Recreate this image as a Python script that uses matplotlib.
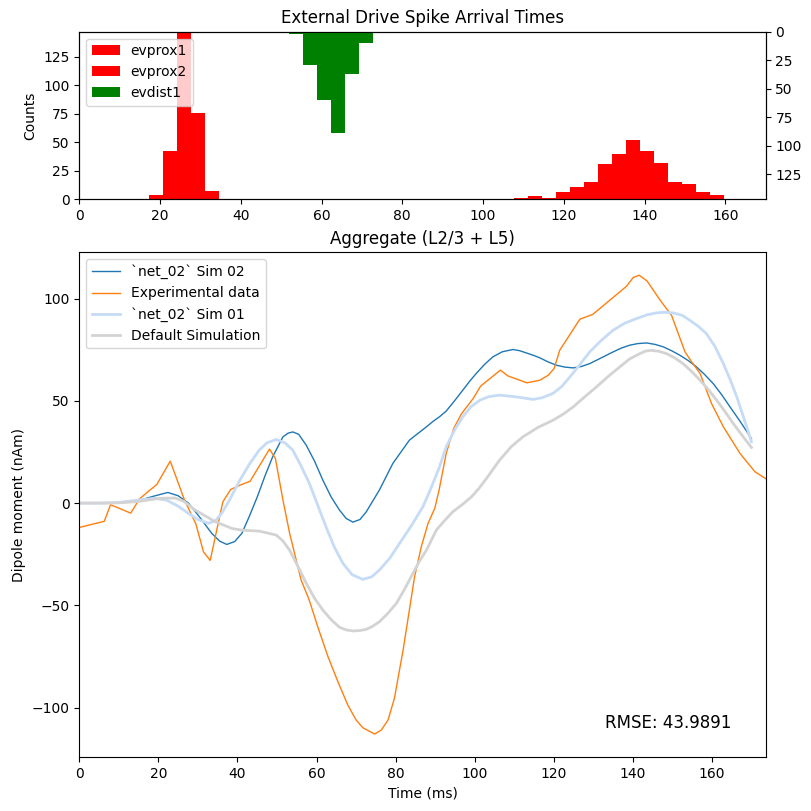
import numpy as np
import matplotlib
matplotlib.use("Agg")
import matplotlib.pyplot as plt

# ---------------- Histogram data ----------------
tstop = 170.0
n_edges = 50
# counts per bin index (bins of width tstop/49)
evprox1_bins = [5, 6, 7, 8, 9]
evprox1_counts = [4, 42, 147, 76, 7]
evprox2_bins = [31, 32, 33, 34, 35, 36, 37, 38, 39, 40, 41, 42, 43, 44, 45]
evprox2_counts = [1, 3, 1, 6, 11, 15, 31, 40, 52, 42, 32, 15, 13, 6, 4]
evdist1_bins = [15, 16, 17, 18, 19, 20]
evdist1_counts = [2, 29, 60, 89, 37, 10]

# ---------------- Dipole data ----------------
exp_t = [0.0, 6.3, 7.9, 13.0, 15.2, 17.0, 19.6, 23.0, 26.6, 29.5, 31.4, 33.1,
         36.3, 38.3, 40.7, 43.2, 48.1, 49.6, 51.5, 53.2, 56.1, 58.1, 60.3,
         62.9, 65.4, 67.9, 70.0, 71.7, 74.7, 76.4, 78.1, 79.7, 81.9, 84.8,
         86.5, 88.2, 89.9, 91.0, 92.8, 94.7, 96.6, 99.6, 101.5, 106.5, 108.4,
         113.2, 116.5, 118.6, 120.1, 121.5, 126.6, 129.9, 138.4, 140.1, 141.6,
         143.6, 146.8, 148.5, 149.8, 153.2, 154.9, 157.0, 159.9, 162.9, 167.1,
         170.9, 173.6]
exp_v = [-11.9, -8.9, -0.8, -4.9, 2.0, 5.0, 9.1, 20.5, 1.5, -10.3, -23.8, -28.0,
         0.6, 6.7, 8.8, 10.7, 26.4, 21.8, 1.5, -14.8, -37.6, -47.1, -60.4,
         -75.1, -87.3, -98.7, -106.0, -109.8, -112.9, -110.9, -106.0, -95.4,
         -71.8, -36.0, -21.3, -9.9, -2.6, 6.4, 24.3, 36.5, 43.5, 51.1, 57.2,
         65.0, 62.2, 58.8, 60.1, 62.5, 65.8, 74.7, 89.9, 92.3, 106.0, 110.3,
         111.4, 108.6, 99.5, 95.1, 91.8, 73.9, 69.0, 63.4, 48.7, 37.3, 24.3,
         15.3, 12.0]

sim02_t = [0.0, 5.0, 10.0, 13.0, 16.0, 19.0, 22.4, 25.0, 27.6, 30.5, 33.5,
           35.5, 37.3, 39.3, 41.1, 43.0, 45.0, 47.0, 48.9, 51.5, 52.8, 54.0,
           55.5, 57.4, 59.5, 61.6, 63.7, 65.8, 67.5, 69.2, 71.0, 72.6, 75.9,
           79.3, 83.5, 87.8, 89.5, 91.1, 92.8, 94.9, 97.0, 98.7, 100.4, 102.5,
           104.6, 107.0, 109.7, 111.4, 113.1, 114.8, 116.5, 118.6, 120.7, 122.8,
           124.9, 127.0, 129.1, 132.0, 135.0, 137.1, 139.2, 141.3, 143.5, 145.6,
           147.7, 149.8, 151.9, 154.0, 156.1, 158.2, 160.3, 162.4, 164.6, 167.3,
           170.0]
sim02_v = [0.0, 0.0, 0.2, 0.7, 1.8, 3.5, 5.2, 3.6, 0.0, -7.0, -14.8,
           -18.6, -20.2, -18.8, -14.8, -6.5, 3.0, 13.5, 22.6, 32.4, 34.2, 34.8,
           33.6, 28.3, 20.5, 11.2, 3.0, -3.4, -7.5, -9.3, -8.0, -4.2, 6.4,
           19.4, 30.8, 37.3, 40.0, 42.2, 45.0, 50.0, 55.2, 59.5, 63.4, 67.8,
           71.5, 74.0, 75.1, 74.5, 73.4, 72.3, 71.0, 69.0, 67.4, 66.5,
           66.1, 66.8, 68.2, 71.0, 73.9, 75.8, 77.2, 78.0, 78.3, 77.6,
           76.4, 74.5, 72.3, 69.7, 66.6, 62.8, 58.5, 53.2, 47.0, 39.5,
           31.5]

sim01_t = [0.0, 5.0, 10.0, 15.0, 19.0, 22.0, 25.0, 27.6, 30.0, 32.7, 34.5,
           36.0, 38.0, 40.4, 43.0, 45.5, 47.5, 49.8, 52.0, 54.0, 56.0, 58.2,
           60.3, 62.4, 64.5, 66.7, 69.0, 71.7, 74.0, 75.9, 78.5, 81.0, 84.0,
           86.9, 89.0, 91.1, 92.8, 95.0, 97.0, 99.0, 101.3, 103.5, 106.3, 110.6,
           114.8, 117.0, 119.8, 122.0, 124.1, 126.5, 129.1, 132.0, 135.0, 138.0,
           140.9, 143.5, 146.0, 148.0, 150.2, 152.5, 154.4, 156.5, 158.6, 160.8,
           162.9, 164.6, 166.3, 168.0, 170.0]
sim01_v = [0.0, 0.0, 0.3, 1.5, 2.3, 1.5, -1.5, -5.0, -8.0, -9.9, -8.5,
           -5.0, 1.5, 10.5, 19.0, 25.9, 29.5, 31.1, 29.5, 25.9, 18.5, 9.6,
           -1.0, -11.6, -21.5, -29.5, -35.0, -37.3, -36.0, -32.7, -27.0, -19.7, -11.0,
           -1.8, 7.5, 17.7, 27.5, 36.0, 42.2, 47.0, 50.3, 52.0, 52.8, 51.9,
           50.7, 51.5, 53.6, 57.0, 61.7, 67.5, 73.9, 79.5, 84.5, 88.0,
           90.2, 92.0, 93.0, 93.3, 93.0, 91.8, 89.4, 86.5, 82.9, 76.5,
           68.2, 60.5, 51.9, 42.0, 30.0]

default_t = [0.0, 5.0, 10.0, 15.0, 20.0, 24.2, 26.5, 29.3, 34.4, 38.6, 41.0,
             45.5, 49.8, 51.5, 53.2, 55.3, 57.4, 59.5, 61.6, 63.7, 65.8, 67.5,
             69.2, 71.0, 72.6, 74.2, 75.9, 78.0, 80.2, 82.3, 84.4, 86.0, 87.8,
             90.3, 92.4, 94.5, 97.0, 99.2, 101.0, 103.0, 106.3, 109.2, 112.2,
             116.0, 119.8, 122.4, 124.9, 127.8, 130.8, 133.7, 136.7, 139.2, 141.8,
             143.2, 144.7, 146.6, 148.5, 150.6, 152.7, 154.8, 157.0, 159.1, 161.2,
             163.3, 165.4, 167.7, 170.0]
default_v = [0.0, 0.0, 0.1, 0.8, 2.3, 2.5, 0.8, -3.4, -9.1, -12.4, -13.2,
             -13.7, -15.6, -18.5, -23.0, -31.0, -39.2, -46.5, -52.3, -57.0, -60.7, -62.0,
             -62.5, -62.3, -61.7, -60.2, -58.0, -54.0, -49.0, -42.0, -34.3, -28.5, -23.0,
             -13.2, -8.5, -4.2, -0.5, 3.1, 7.0, 12.1, 21.0, 27.5, 32.4,
             37.0, 40.5, 43.5, 47.0, 51.9, 56.8, 61.8, 66.6, 70.5, 73.1,
             74.3, 74.7, 74.2, 73.1, 71.0, 68.2, 64.5, 60.1, 55.5, 50.3,
             44.8, 38.9, 33.0, 27.2]

rmse_text = "RMSE: 43.9891"

# ---------------- Figure ----------------
fig = plt.figure(figsize=(8.11, 8.11), dpi=100)
ax_h = fig.add_axes([0.0978, 0.7543, 0.8463, 0.2067])
ax_d = fig.add_axes([0.0978, 0.0666, 0.8463, 0.6223])

edges = np.linspace(0, tstop, n_edges)
centers = (edges[:-1] + edges[1:]) / 2


def to_weights(bins, counts):
    w = np.zeros(len(centers))
    for b, c in zip(bins, counts):
        w[b] = c
    return w


w1 = to_weights(evprox1_bins, evprox1_counts)
w2 = to_weights(evprox2_bins, evprox2_counts)
w3 = to_weights(evdist1_bins, evdist1_counts)

ax_h.hist(centers, bins=edges, weights=w1, color='red', label='evprox1')
ax_h.hist(centers, bins=edges, weights=w2, color='red', label='evprox2')
ax2 = ax_h.twinx()
ax2.hist(centers, bins=edges, weights=w3, color='green', label='evdist1')
ymax = max(w1.max(), w2.max(), w3.max())
ax_h.set_ylim(0, ymax)
ax2.set_ylim(ymax, 0)
ax_h.set_xlim(0, tstop)
ax_h.set_xticks(np.arange(0, 161, 20))
ax_h.set_yticks([0, 25, 50, 75, 100, 125])
ax2.set_yticks([0, 25, 50, 75, 100, 125])
ax_h.set_ylabel('Counts')
ax_h.set_title('External Drive Spike Arrival Times', fontsize=12)
h1, l1 = ax_h.get_legend_handles_labels()
h2, l2 = ax2.get_legend_handles_labels()
ax2.legend(h1 + h2, l1 + l2, loc='upper left')

ax_d.plot(sim02_t, sim02_v, color='#1f77b4', lw=1.0, label='`net_02` Sim 02')
ax_d.plot(exp_t, exp_v, color='#ff7f0e', lw=1.0, label='Experimental data')
ax_d.plot(sim01_t, sim01_v, color='#c6dbf5', lw=2.0, label='`net_02` Sim 01')
ax_d.plot(default_t, default_v, color='#d3d3d3', lw=2.0, label='Default Simulation')
ax_d.set_xlim(0, exp_t[-1])
ax_d.set_xticks(np.arange(0, 161, 20))
ax_d.set_yticks([-100, -50, 0, 50, 100])
ax_d.set_xlabel('Time (ms)')
ax_d.set_ylabel('Dipole moment (nAm)')
ax_d.set_title('Aggregate (L2/3 + L5)', fontsize=12)
ax_d.legend(loc='upper left')
ax_d.text(0.95, 0.05, rmse_text, transform=ax_d.transAxes, ha='right',
          va='bottom', fontsize=12)

fig.savefig('out.png', dpi=100)
